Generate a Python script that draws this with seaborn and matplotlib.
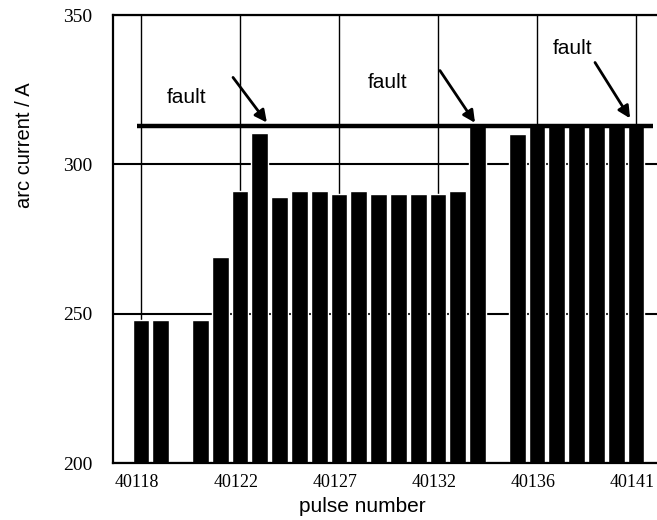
import numpy as np
import pandas as pd
import matplotlib
matplotlib.use("Agg")
import matplotlib.pyplot as plt
import matplotlib.transforms as mtransforms
import seaborn as sns

# ---- data ----
slots = [f"s{i:02d}" for i in range(26)]
arc_current = [248, 248, np.nan, 248, 269, 291, 310.5, 289, 291, 291,
               290, 291, 290, 290, 290, 290, 291, 313, np.nan, 310,
               313, 313, 313, 313, 313, 313]
tick_slots = [0, 5, 10, 15, 20, 25]
tick_labels = ["40118", "40122", "40127", "40132", "40136", "40141"]
y_ticks = [200, 250, 300, 350]
fault_level = 312.7
fault_texts = ["fault", "fault", "fault"]
fault_text_pos = [(2.32, 322.3), (12.45, 327.4), (21.8, 338.8)]
fault_arrow_tail = [(4.65, 329.1), (15.1, 331.4), (22.93, 334.1)]
fault_arrow_head = [(6.36, 314.0), (16.87, 313.9), (24.7, 315.4)]

df = pd.DataFrame({"slot": slots, "current": arc_current})

sns.set_style("white")
plt.rcParams["font.family"] = ["Liberation Sans", "DejaVu Sans"]
for key in ["text.color", "axes.labelcolor", "xtick.color", "ytick.color"]:
    plt.rcParams[key] = "black"

fig = plt.figure(figsize=(6.57, 5.2), dpi=100)
ax = fig.add_axes([113 / 657, 57 / 520, 1 - 113 / 657, 448 / 520])

sns.barplot(data=df, x="slot", y="current", order=slots, color="black",
            saturation=1, width=0.85, ax=ax, zorder=2)

ax.set_ylim(200, 350)
ax.set_xlim(-1.41, 26.06)
ax.set_yticks(y_ticks)
ax.set_yticklabels([str(v) for v in y_ticks], family="Liberation Serif", fontsize=14)
ax.set_xticks(tick_slots)
ax.set_xticklabels(tick_labels, family="Liberation Serif", fontsize=13)
ax.tick_params(axis="y", length=0, pad=15, labelcolor="black")
ax.tick_params(axis="x", length=0, pad=8, labelcolor="black")

shift = mtransforms.ScaledTranslation(-4 / 100, 0, fig.dpi_scale_trans)
for lbl in ax.get_xticklabels():
    lbl.set_transform(lbl.get_transform() + shift)

ax.grid(True, axis="x", color="black", linewidth=1.0, zorder=1)
ax.grid(True, axis="y", color="black", linewidth=1.5, zorder=1)
ax.set_axisbelow(True)

for side in ["left", "bottom", "top"]:
    ax.spines[side].set_visible(True)
    ax.spines[side].set_color("black")
    ax.spines[side].set_linewidth(1.6)
ax.spines["right"].set_visible(False)

ax.set_xlabel("")
ax.set_ylabel("")

# fault threshold line
ax.hlines(fault_level, -0.2, 25.85, color="black", linewidth=3.2, zorder=4)

for txt, (tx, ty), (ax0, ay0), (ax1, ay1) in zip(fault_texts, fault_text_pos,
                                                  fault_arrow_tail, fault_arrow_head):
    ax.text(tx, ty, txt, fontsize=15, ha="center", va="center", color="black",
            zorder=5)
    ax.annotate("", xy=(ax1, ay1), xytext=(ax0, ay0),
                arrowprops=dict(arrowstyle="-|>", color="black", lw=2,
                                mutation_scale=18, shrinkA=0, shrinkB=0),
                zorder=5)

fig.text(25 / 657, 1 - 145 / 520, "arc current / A", rotation=90,
         ha="center", va="center", fontsize=14.5, color="black")
fig.text(362 / 657, 1 - 507 / 520, "pulse number", ha="center", va="center",
         fontsize=15, color="black")

fig.savefig("out.png", dpi=100)
